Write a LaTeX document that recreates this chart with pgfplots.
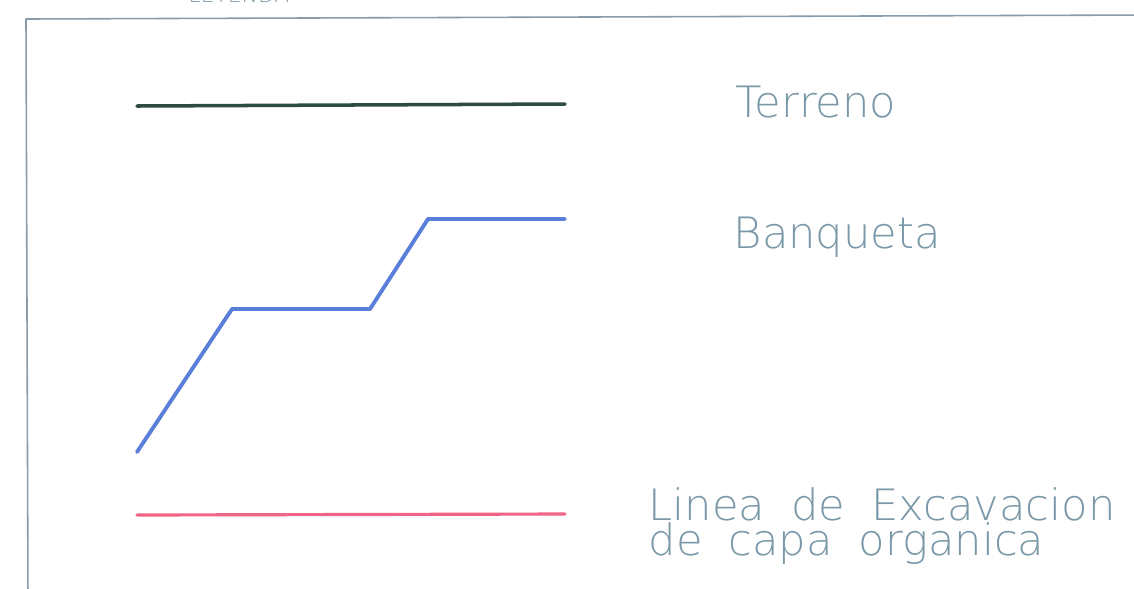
\documentclass[border=0pt]{standalone}
\usepackage{pgfplots}
\pgfplotsset{compat=1.18}
\usepackage{fontspec}
\newfontfamily\cad{DejaVu Sans ExtraLight}
\definecolor{terreno}{HTML}{2E4A44}
\definecolor{banqueta}{HTML}{5A7FD8}
\definecolor{excav}{HTML}{F06585}
\definecolor{marco}{HTML}{8A9CAA}
\definecolor{texto}{HTML}{7A98A8}
\begin{document}
\begin{tikzpicture}
\useasboundingbox (0,0) rectangle (11.34cm,5.88cm);
\clip (0,0) rectangle (11.34cm,5.88cm);
\fill[white] (0,0) rectangle (11.34cm,5.88cm);
\begin{axis}[
    at={(0,0)}, anchor=south west,
    width=11.34cm, height=5.88cm, scale only axis,
    xmin=0, xmax=1134, ymin=0, ymax=588,
    y dir=reverse,
    hide axis, clip=false,
    every axis plot/.append style={no markers, line join=round, line cap=round},
    nodes={font=\cad\fontsize{12.3}{12.3}\selectfont, text=texto, inner sep=0pt},
]
% marco de la leyenda
\addplot[marco, line width=0.45pt] coordinates {(28,600) (26,19) (1150,15)};
% Terreno
\addplot[terreno, line width=1.0pt] coordinates {(137,106) (565,104)};
% Banqueta
\addplot[banqueta, line width=1.1pt] coordinates {(137,452) (232,309) (370,309) (428,219) (565,219)};
% Linea de excavacion de capa organica
\addplot[excav, line width=0.9pt] coordinates {(137,515) (565,514)};

\node[anchor=base, font=\cad\fontsize{6.2}{6.2}\selectfont] at (axis cs:239,2) {LEYENDA};
\node[anchor=base west] at (axis cs:735,117) {Terreno};
\node[anchor=base west] at (axis cs:733,248) {Banqueta};
\node[anchor=base west] at (axis cs:648,520) {Linea\hspace{0.6em}de\hspace{0.6em}Excavacion};
\node[anchor=base west] at (axis cs:648,555) {de\hspace{0.6em}capa\hspace{0.6em}organica};
\end{axis}
\end{tikzpicture}
\end{document}
